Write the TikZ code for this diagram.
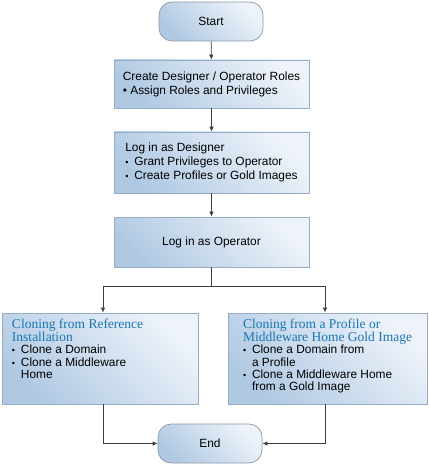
\documentclass[tikz,border=0pt]{standalone}
\usepackage{fontspec}
\setmainfont{Liberation Sans}
\newfontfamily\headfont{Liberation Serif}
\usetikzlibrary{
  arrows.meta,
  positioning
}

% bullet with a fixed hang
\newcommand{\bul}{\makebox[9pt][l]{\fontsize{9}{9}\selectfont\textbullet}}
\newcommand{\hang}{\hspace*{9pt}}
\newcommand{\headtxt}[1]{{\headfont\color{cHead}\fontsize{13.5}{13}\selectfont #1\par}}

\begin{document}
\begin{tikzpicture}[
  x=1pt, y=1pt,
  every node/.style={font=\fontsize{11.9}{14}\selectfont},
  box/.style={rectangle, draw=cLine, line width=0.7pt, top color=cLight, bottom color=cDark, shading angle=-45, inner sep=0pt},
  term/.style={box, draw=cTerm, rounded corners=13pt, minimum width=104pt, minimum height=39pt},
  step box/.style={box, minimum width=195pt, align=left},
  arr/.style={-{Latex[length=5pt,width=4.5pt]}, draw=cArrow, line width=0.8pt}
]
  % colours
  \definecolor{cLight}{RGB}{238,243,250}
  \definecolor{cDark}{RGB}{176,201,227}
  \definecolor{cLine}{RGB}{150,172,196}
  \definecolor{cTerm}{RGB}{140,152,168}
  \definecolor{cArrow}{RGB}{60,60,60}
  \definecolor{cHead}{RGB}{25,118,180}

  \useasboundingbox (0,0) rectangle (428,-465);

  % main column
  \node[term] (start) at (211,-21.5) {Start};
  \node[step box, minimum height=48pt] (roles) at (211.5,-84)
    {Create Designer / Operator Roles\\\textbullet\ Assign Roles and Privileges};
  \node[step box, minimum height=61pt] (designer) at (211.5,-162.5)
    {Log in as Designer\\\bul Grant Privileges to Operator\\\bul Create Profiles or Gold Images};
  \node[box, minimum width=195pt, minimum height=50pt] (operator) at (211.5,-242) {Log in as Operator};

  % the two cloning paths
  \node[box, inner xsep=10pt, inner ysep=6pt] (refclone) at (100,-358.5)
    {\parbox[c][79pt][t]{176pt}{\raggedright
      \headtxt{Cloning from Reference\\Installation}
      \fontsize{11.9}{12.3}\selectfont
      \bul Clone a Domain\\
      \bul Clone a Middleware\\
      \hang Home}};
  \node[box, inner xsep=15pt, inner ysep=6pt] (goldclone) at (327.5,-358.5)
    {\parbox[c][79pt][t]{169pt}{\raggedright
      \headtxt{Cloning from a Profile or\\Middleware Home Gold Image}
      \fontsize{11.9}{12.3}\selectfont
      \bul Clone a Domain from\\
      \hang a Profile\\
      \bul Clone a Middleware Home\\
      \hang from a Gold Image}};

  \node[term] (end) at (210,-443.5) {End};

  % connectors
  \coordinate (split) at (211.5,-286);
  \draw[arr] (start) -- (roles);
  \draw[arr] (roles) -- (designer);
  \draw[arr] (designer) -- (operator);
  \draw[arr] (operator.south) -- (split) -| ([xshift=3pt]refclone.north);
  \draw[arr] (split) -| ([xshift=-2.5pt]goldclone.north);
  \draw[arr] ([xshift=3pt]refclone.south) |- (end.west);
  \draw[arr] ([xshift=-2.5pt]goldclone.south) |- (end.east);

\end{tikzpicture}
\end{document}
